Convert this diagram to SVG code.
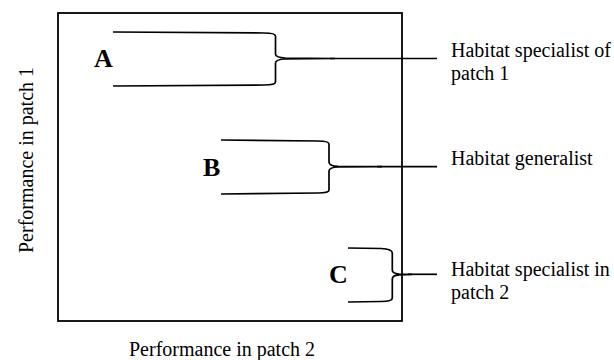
<svg xmlns="http://www.w3.org/2000/svg" width="614" height="360" viewBox="0 0 614 360">
<style>
.t{font-family:"Liberation Serif","Times New Roman",serif;font-size:20px;fill:#000}
.l{font-family:"Liberation Serif","Times New Roman",serif;font-size:26px;font-weight:bold;fill:#000}
.br{fill:none;stroke:#000;stroke-width:1.7}
.cn{fill:none;stroke:#000;stroke-width:1.7}
</style>
<rect x="0" y="0" width="614" height="360" fill="#fff"/>
<rect id="frame" x="58" y="13" width="344" height="308" fill="none" stroke="#000" stroke-width="1.8"/>
<text class="t" x="222" y="356" text-anchor="middle">Performance in patch 2</text>
<text class="t" transform="translate(33,160) rotate(-90)" text-anchor="middle">Performance in patch 1</text>
<g id="nodeA">
<text class="l" x="94" y="67">A</text>
<path class="br" d="M113,32 L264,33 Q275.5,33 275.5,36 L275.5,54 Q275.5,57.5 285,58 L335,58.5 M335,58.5 L285,59 Q275.5,59.5 275.5,63 L275.5,82 Q275.5,85 264,85 L113,86"/>
</g>
<g id="nodeB">
<text class="l" x="203" y="176">B</text>
<path class="br" d="M221,140 L318,141 Q329,141 329,144 L329,162 Q329,166 338,166.3 L382,166.7 M382,166.7 L338,167 Q329,167.5 329,171 L329,190 Q329,193 318,193 L221,194"/>
</g>
<g id="nodeC">
<text class="l" x="329" y="283">C</text>
<path class="br" d="M348,248 L381,248.5 Q392.3,249 392.3,253 L392.3,270 Q392.3,273.5 399,274 L412,274.3 M412,274.3 L399,274.8 Q392.3,275.3 392.3,279 L392.3,298 Q392.3,301.5 381,301.5 L348,302"/>
</g>
<g id="labelA"><text class="t" x="451" y="57">Habitat specialist of</text><text class="t" x="451" y="80">patch 1</text></g>
<g id="labelB"><text class="t" x="451" y="165">Habitat generalist</text></g>
<g id="labelC"><text class="t" x="451" y="276">Habitat specialist in</text><text class="t" x="451" y="299">patch 2</text></g>
<g id="connectors">
<line class="cn" x1="330" y1="58.5" x2="437" y2="58.5"/>
<line class="cn" x1="377" y1="166.7" x2="437" y2="166.7"/>
<line class="cn" x1="408" y1="274.3" x2="437" y2="274.3"/>
</g>
</svg>
